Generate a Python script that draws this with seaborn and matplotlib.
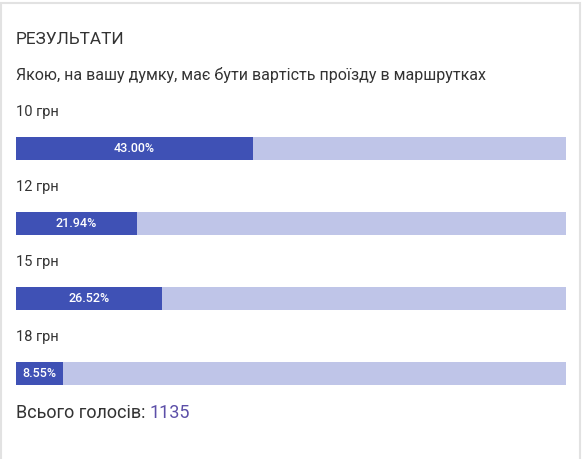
import matplotlib
matplotlib.use("Agg")
import matplotlib.pyplot as plt
import matplotlib.patches as mpatches
import seaborn as sns
import pandas as pd

# Poll data
options = ["10 грн", "12 грн", "15 грн", "18 грн"]
shares = [43.00, 21.94, 26.52, 8.55]
full = [100, 100, 100, 100]
total_votes = 1135

title = "РЕЗУЛЬТАТИ"
question = "Якою, на вашу думку, має бути вартість проїзду в маршрутках"

dark = "#3f51b5"
light = "#bfc5e8"
text_col = "#333333"

sns.set_theme(style="white")
plt.rcParams["font.family"] = ["Roboto", "DejaVu Sans"]

W, H = 582, 459
fig = plt.figure(figsize=(W / 100, H / 100), dpi=100)
fig.patch.set_facecolor("white")

# card outline
fig.patches.append(mpatches.Rectangle((1 / W, -0.01), 579 / W, 1 - 2.5 / H + 0.01,
                                      transform=fig.transFigure, facecolor="white",
                                      edgecolor="#e2e2e2", linewidth=1.5, zorder=-1))

# bar area: categories -0.5..3.5 map to pixel rows 111..411
ax = fig.add_axes([16 / W, 1 - 411 / H, 550 / W, 300 / H])
ax.set_zorder(2)
ax.patch.set_alpha(0)
df = pd.DataFrame({"option": options, "share": shares, "full": full})

sns.barplot(data=df, x="full", y="option", color=light, width=23 / 75,
            saturation=1, linewidth=0, ax=ax, zorder=1)
sns.barplot(data=df, x="share", y="option", color=dark, width=23 / 75,
            saturation=1, linewidth=0, ax=ax, zorder=2)

ax.set_xlim(0, 100)
ax.set_ylim(3.5, -0.5)
ax.axis("off")

for i, (opt, val) in enumerate(zip(options, shares)):
    ax.text(0, i - 0.49, opt, ha="left", va="center", fontsize=10.5,
            color=text_col, clip_on=False)
    ax.text(val / 2, i, f"{val:.2f}%", ha="center", va="center", fontsize=9,
            color="white", fontweight="medium", zorder=3)

fig.text(16 / W, 1 - 40 / H, title, ha="left", va="center", fontsize=12.4,
         color=text_col)
fig.text(16 / W, 1 - 75 / H, question, ha="left", va="center", fontsize=11.5,
         color=text_col)

t = fig.text(16 / W, 1 - 413 / H, "Всього голосів: ", ha="left", va="center",
             fontsize=13, color=text_col)
fig.canvas.draw()
bb = t.get_window_extent()
fig.text(bb.x1 / W, 1 - 413 / H, str(total_votes), ha="left", va="center",
         fontsize=13, color="#5c4fa8")

fig.savefig("out.png", dpi=100)
